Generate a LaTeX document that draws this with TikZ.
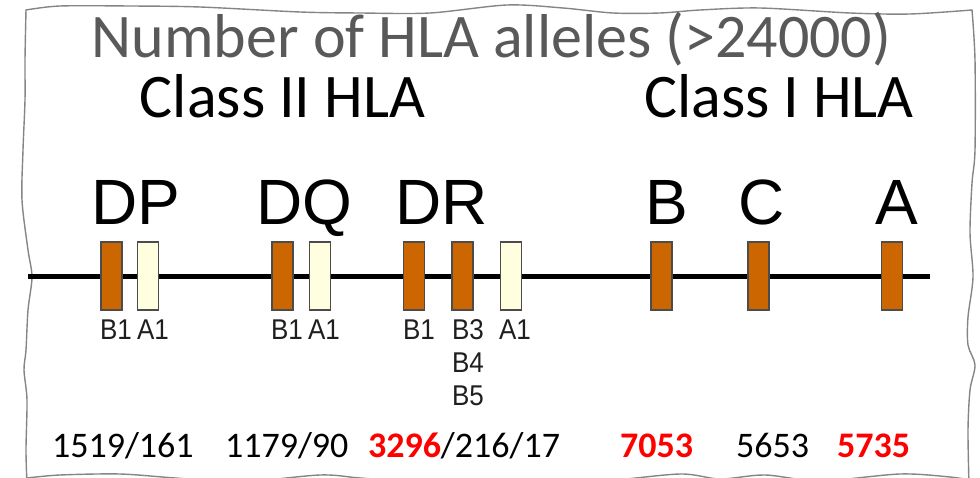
\documentclass[tikz,border=0pt]{standalone}
\usepackage{graphicx}
\usepackage{fontspec}
\setmainfont{Carlito}
\newfontfamily\arialfont{Liberation Sans}
\newcommand\tallsub[1]{\scalebox{1}[1.1]{#1}}
\definecolor{geneorange}{HTML}{CC6600}
\definecolor{genecream}{HTML}{FFFFE0}
\definecolor{titlegray}{HTML}{595959}
\definecolor{edgegray}{HTML}{858585}
\definecolor{hotred}{HTML}{FF0000}

\begin{document}
\begin{tikzpicture}[x=1pt,y=-1pt,
  txt/.style={inner sep=0pt, outer sep=0pt, anchor=base},
  bigtxt/.style={txt, font=\fontsize{62}{62}\selectfont},
  locus/.style={txt, font=\arialfont\fontsize{64}{64}\selectfont},
  exon/.style={draw=black!70, line width=1.2pt, minimum width=21pt, minimum height=68pt, inner sep=0pt},
  betaexon/.style={exon, fill=geneorange},
  alphaexon/.style={exon, fill=genecream},
  sublabel/.style={txt, font=\arialfont\fontsize{26}{26}\selectfont, text=black!88},
  count/.style={txt, anchor=base west, font=\fontsize{36}{36}\selectfont},
  paper/.style={draw=edgegray, line width=1.4pt, line join=round, line cap=round}
]
\useasboundingbox (0,0) rectangle (980,478);
\clip (0,0) rectangle (980,478);

% torn-paper frame
\draw[paper] plot[smooth] coordinates {(26,10) (60,6) (130,6) (200,7) (300,12) (360,13) (430,13) (507,5) (563,8) (613,13) (660,13) (700,10) (760,8) (850,13) (910,14) (972,10)};
\draw[paper] plot[smooth] coordinates {(972,10) (975,60) (975,150) (972,183) (970,233) (973,277) (968,317) (968,345) (975,365) (970,390) (968,430) (969,485)};
\draw[paper] plot[smooth] coordinates {(26,10) (25,60) (25,100) (23,150) (22,200) (28,250) (32,277) (28,310) (26,350) (24,370) (27,400) (26,450) (27,485)};
\draw[paper] plot[smooth] coordinates {(27,478) (60,475) (120,474) (175,478) (240,482) (320,475) (360,478) (420,482) (500,481) (600,481) (680,474) (720,479) (765,475) (820,481) (900,474) (950,477) (969,480)};

% headings
\node[bigtxt, text=titlegray] (title) at (491.5,58) {Number of HLA alleles (>24000)};
\node[bigtxt] (classtwo) at (282.5,118) {Class II HLA};
\node[bigtxt] (classone) at (779,118) {Class I HLA};

% locus names
\node[locus] (DP) at (136,225) {DP};
\node[locus] (DQ) at (304,225) {DQ};
\node[locus] (DR) at (442,225) {DR};
\node[locus] (B) at (667,225) {B};
\node[locus] (C) at (762,225) {C};
\node[locus] (A) at (897,225) {A};

% chromosome
\coordinate (chrL) at (28,277);
\coordinate (chrR) at (930,277);
\draw[line width=5pt] (chrL) -- (chrR);

% exons
\node[betaexon]  (dpB1) at (111.5,276) {};
\node[alphaexon] (dpA1) at (148,276) {};
\node[betaexon]  (dqB1) at (282.5,276) {};
\node[alphaexon] (dqA1) at (320,276) {};
\node[betaexon]  (drB1) at (414,276) {};
\node[betaexon]  (drB3) at (462.5,276) {};
\node[alphaexon] (drA1) at (511,276) {};
\node[betaexon]  (bEx) at (661.5,276) {};
\node[betaexon]  (cEx) at (758.5,276) {};
\node[betaexon]  (aEx) at (892,276) {};

% chain labels
\node[sublabel] (dpB1l) at (116,339) {\tallsub{B1}};
\node[sublabel] (dpA1l) at (153,339) {\tallsub{A1}};
\node[sublabel] (dqB1l) at (287,339) {\tallsub{B1}};
\node[sublabel] (dqA1l) at (324,339) {\tallsub{A1}};
\node[sublabel] (drB1l) at (419,339) {\tallsub{B1}};
\node[sublabel] (drB3l) at (468,339) {\tallsub{B3}};
\node[sublabel] (drB4l) at (468,372) {\tallsub{B4}};
\node[sublabel] (drB5l) at (468,405) {\tallsub{B5}};
\node[sublabel] (drA1l) at (515,339) {\tallsub{A1}};

% allele counts
\node[count] (nDP) at (52,457) {1519/161};
\node[count] (nDQ) at (225,457) {1179/90};
\node[count] (nDR) at (368,457) {\textcolor{hotred}{\bfseries 3296}/216/17};
\node[count, text=hotred, font=\bfseries\fontsize{36}{36}\selectfont] (nB) at (620,457) {7053};
\node[count] (nC) at (736,457) {5653};
\node[count, text=hotred, font=\bfseries\fontsize{36}{36}\selectfont] (nA) at (837,457) {5735};
\end{tikzpicture}
\end{document}
